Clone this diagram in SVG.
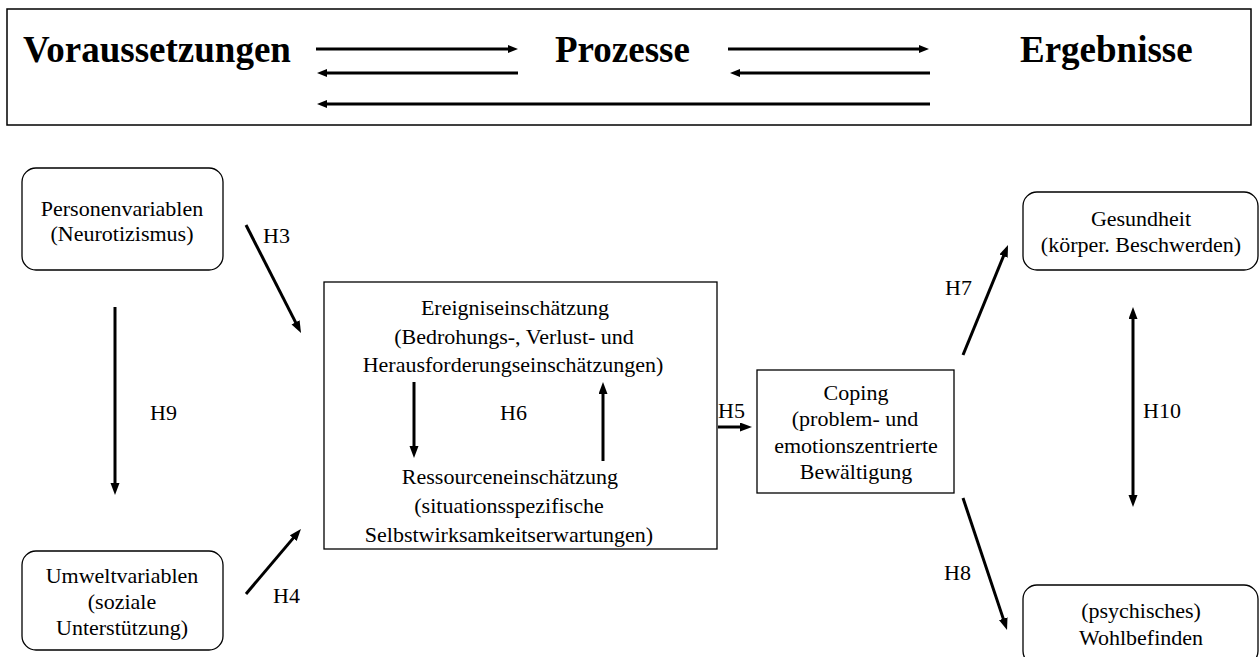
<svg xmlns="http://www.w3.org/2000/svg" width="1260" height="657" viewBox="0 0 1260 657">
<style>
text{font-family:"Liberation Serif","Times New Roman",serif;fill:#000;}
.t{font-size:22px;text-anchor:middle;}
.l{font-size:22px;}
.h{font-size:37px;font-weight:bold;}
.box{fill:#fff;stroke:#000;stroke-width:1.3;}
.c{stroke:#000;stroke-width:3;fill:none;}
</style>
<defs>
<marker id="ah" markerUnits="userSpaceOnUse" markerWidth="12" markerHeight="10" refX="4" refY="4.5" orient="auto-start-reverse"><path d="M0,0 L12,4.5 L0,9 z" fill="#000"/></marker>
<marker id="as" markerUnits="userSpaceOnUse" markerWidth="10" markerHeight="8" refX="3" refY="4" orient="auto"><path d="M0,0 L10,4 L0,8 z" fill="#000"/></marker>
</defs>
<rect width="1260" height="657" fill="#fff"/>
<g id="header">
<rect x="7" y="9" width="1244" height="116" fill="#fff" stroke="#000" stroke-width="1.5"/>
<text class="h" x="23" y="62">Voraussetzungen</text>
<text class="h" x="555" y="62">Prozesse</text>
<text class="h" x="1020" y="62">Ergebnisse</text>
</g>
<g id="person"><rect class="box" x="22" y="168" width="201" height="102" rx="14"/><text class="t" x="122" y="216">Personenvariablen</text><text class="t" x="122" y="241">(Neurotizismus)</text></g>
<g id="umwelt"><rect class="box" x="22" y="551" width="201" height="99" rx="14"/><text class="t" x="122" y="583">Umweltvariablen</text><text class="t" x="122" y="609">(soziale</text><text class="t" x="122" y="635">Unterstützung)</text></g>
<g id="einschaetzung"><rect class="box" x="324" y="282" width="393" height="267"/>
<text class="t" x="515" y="315">Ereigniseinschätzung</text><text class="t" x="514" y="344">(Bedrohungs-, Verlust- und</text><text class="t" x="513" y="372">Herausforderungseinschätzungen)</text>
<text class="t" x="510" y="484">Ressourceneinschätzung</text><text class="t" x="509" y="513">(situationsspezifische</text><text class="t" x="509" y="542">Selbstwirksamkeitserwartungen)</text></g>
<g id="coping"><rect class="box" x="757" y="370" width="197" height="123"/>
<text class="t" x="856" y="400">Coping</text><text class="t" x="855" y="426">(problem- und</text><text class="t" x="856" y="453">emotionszentrierte</text><text class="t" x="856" y="479">Bewältigung</text></g>
<g id="gesundheit"><rect class="box" x="1023" y="192" width="235" height="78" rx="14"/><text class="t" x="1141" y="226">Gesundheit</text><text class="t" x="1141" y="252">(körper. Beschwerden)</text></g>
<g id="wohlbefinden"><rect class="box" x="1023" y="585" width="235" height="80" rx="14"/><text class="t" x="1141" y="618">(psychisches)</text><text class="t" x="1141" y="645">Wohlbefinden</text></g>
<g id="connectors">
<line class="c" x1="316" y1="49" x2="511" y2="49" marker-end="url(#as)"/>
<line class="c" x1="728" y1="49" x2="922" y2="49" marker-end="url(#as)"/>
<line class="c" x1="518" y1="73" x2="324" y2="73" marker-end="url(#as)"/>
<line class="c" x1="930" y1="73" x2="737" y2="73" marker-end="url(#as)"/>
<line class="c" x1="930" y1="104" x2="324" y2="104" marker-end="url(#as)"/>
<line class="c" x1="246" y1="225" x2="297.4" y2="325.9" marker-end="url(#ah)"/>
<line class="c" x1="246" y1="594" x2="295.8" y2="535.1" marker-end="url(#ah)"/>
<line class="c" x1="115" y1="307" x2="115" y2="487" marker-end="url(#ah)"/>
<line class="c" x1="414" y1="382" x2="414" y2="450" marker-end="url(#ah)"/>
<line class="c" x1="603" y1="461" x2="603" y2="390" marker-end="url(#ah)"/>
<line class="c" x1="718" y1="427" x2="744" y2="427" marker-end="url(#ah)"/>
<line class="c" x1="963" y1="355" x2="1005" y2="252.4" marker-end="url(#ah)"/>
<line class="c" x1="963" y1="498" x2="1004.5" y2="622.4" marker-end="url(#ah)"/>
<line class="c" x1="1133" y1="315" x2="1133" y2="499" marker-start="url(#ah)" marker-end="url(#ah)"/>
</g>
<g id="labels">
<text class="l" x="263" y="243">H3</text>
<text class="l" x="273" y="603">H4</text>
<text class="l" x="150" y="420">H9</text>
<text class="l" x="500" y="420">H6</text>
<text class="l" x="718" y="418">H5</text>
<text class="l" x="945" y="295">H7</text>
<text class="l" x="944" y="580">H8</text>
<text class="l" x="1143" y="418">H10</text>
</g>
</svg>
